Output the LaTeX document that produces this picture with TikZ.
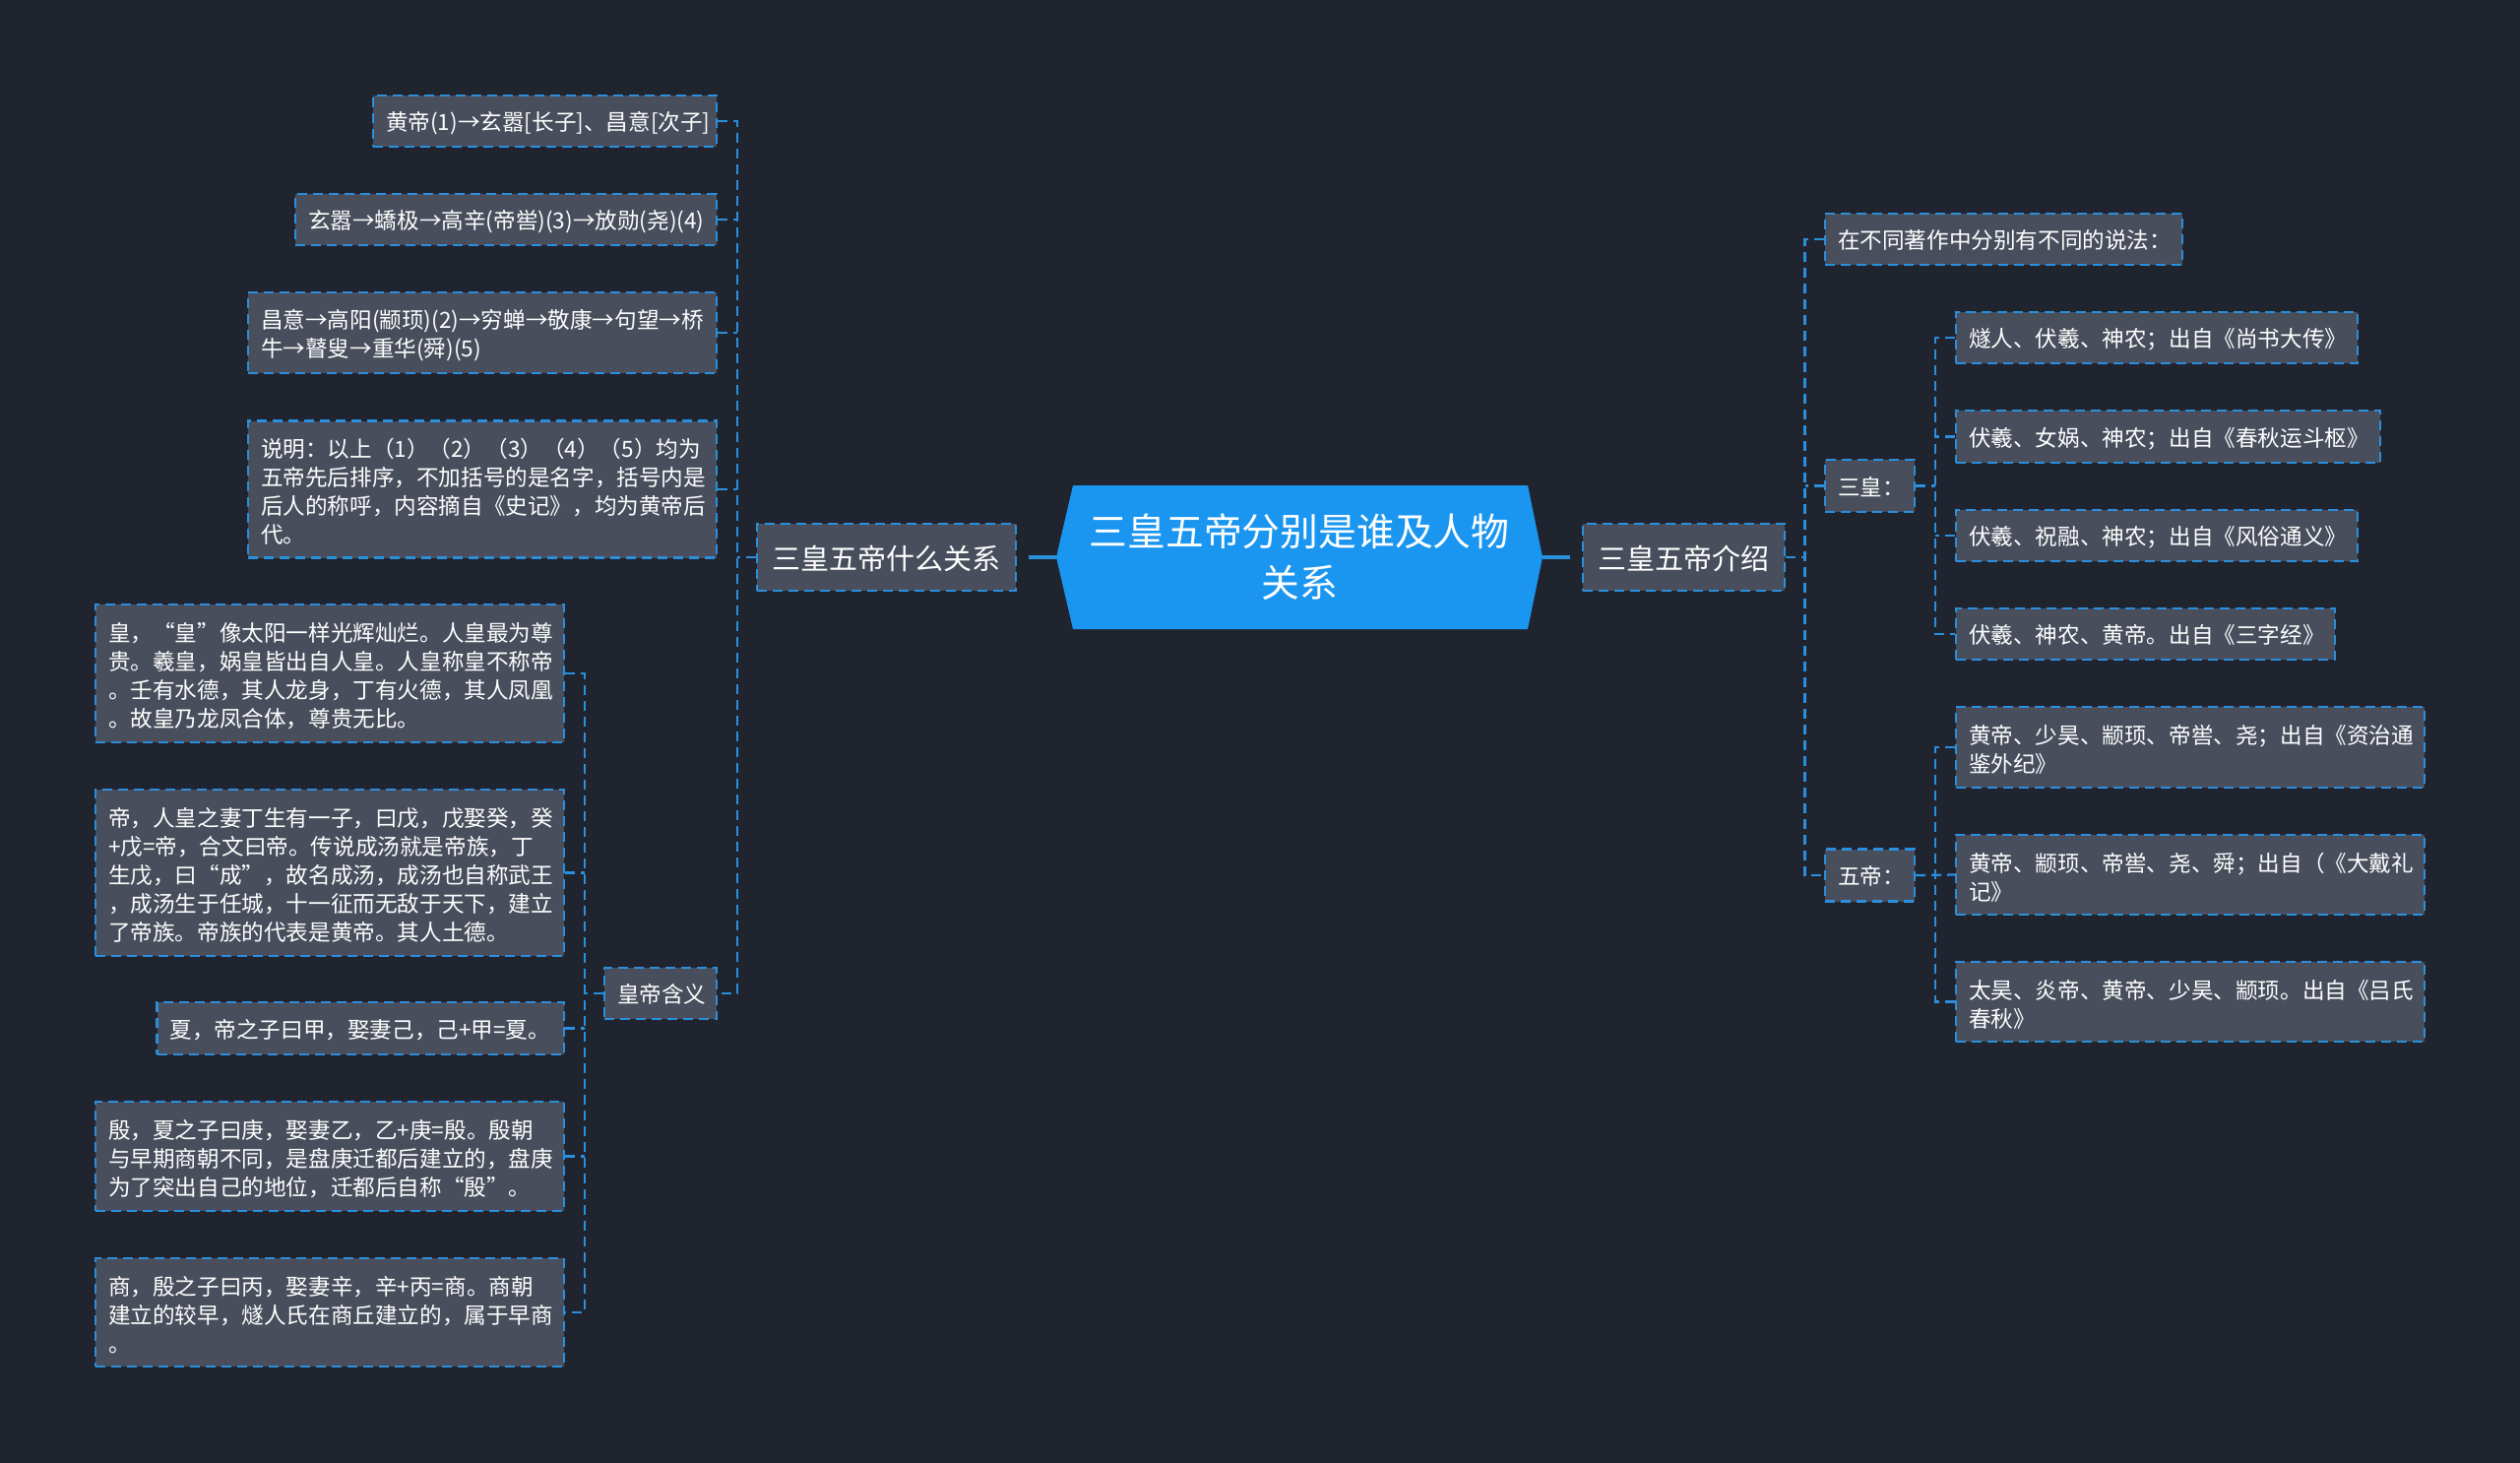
\documentclass[tikz,border=0pt]{standalone}
\usepackage{fontspec}
\setmainfont{Noto Sans CJK SC}
\usetikzlibrary{positioning}
\definecolor{bgdark}{HTML}{20242F}
\definecolor{boxgrey}{HTML}{484E5C}
\definecolor{linkblue}{HTML}{2A8FDD}
\definecolor{rootblue}{HTML}{1A96F0}
\tikzset{
  leaf/.style 2 args={draw=linkblue, fill=boxgrey, line width=1.15pt, dash pattern=on 5pt off 3pt,
    text=white, font=\fontsize{11.3}{14.5}\selectfont, align=left, inner xsep=6.5pt, inner ysep=0pt,
    text width=#1*0.5pt-13pt, minimum height=#2*0.5pt,
    execute at begin node={\lineskiplimit=-100pt}, execute at end node={\par\vspace{-2.4pt}}},
  topic/.style 2 args={leaf={#1}{#2}, font=\fontsize{14.5}{18}\selectfont, align=center},
  link/.style={draw=linkblue, line width=1.15pt, dash pattern=on 5pt off 3pt},
  rootlink/.style={draw=linkblue, line width=2pt, dash pattern=on 14pt off 6pt},
}
\begin{document}
\begin{tikzpicture}[x=0.5pt,y=-0.5pt]
    \useasboundingbox (0,0) rectangle (2560,1485);
    \fill[bgdark] (-10,-10) rectangle (2570,1495);
    %Root
    \fill[rootblue] (1073,566) -- (1090,493) -- (1552,493) -- (1567,566) -- (1552,639) -- (1090,639) -- cycle;
    \node[text=white, align=center, font=\fontsize{19.4}{26}\selectfont] (root) at (1320,566) {三皇五帝分别是谁及人物\\关系};
    \coordinate (rootwest) at (1073,566);
    \coordinate (rooteast) at (1567,566);
    %Left side
    \node[topic={263}{68}] (relation) at (900.5,566) {三皇五帝什么关系};
    \node[leaf={349}{52}] (lineone) at (553.5,123) {黄帝(1)→玄嚣[长子]、昌意[次子]};
    \node[leaf={428}{52}] (linetwo) at (514,223) {玄嚣→蟜极→高辛(帝喾)(3)→放勋(尧)(4)};
    \node[leaf={476}{82}] (linethree) at (490,338) {昌意→高阳(颛顼)(2)→穷蝉→敬康→句望→桥\\牛→瞽叟→重华(舜)(5)};
    \node[leaf={476}{139}] (note) at (490,497) {说明：以上（1）（2）（3）（4）（5）均为\\五帝先后排序，不加括号的是名字，括号内是\\后人的称呼，内容摘自《史记》，均为黄帝后\\代。};
    \node[leaf={114}{52}] (meaning) at (671,1009) {皇帝含义};
    \node[leaf={476}{140}] (huang) at (335,684) {皇，“皇”像太阳一样光辉灿烂。人皇最为尊\\贵。羲皇，娲皇皆出自人皇。人皇称皇不称帝\\。壬有水德，其人龙身，丁有火德，其人凤凰\\。故皇乃龙凤合体，尊贵无比。};
    \node[leaf={476}{169}] (di) at (335,886.5) {帝，人皇之妻丁生有一子，曰戊，戊娶癸，癸\\+戊=帝，合文曰帝。传说成汤就是帝族，丁\\生戊，曰“成”，故名成汤，成汤也自称武王\\，成汤生于任城，十一征而无敌于天下，建立\\了帝族。帝族的代表是黄帝。其人土德。};
    \node[leaf={413.5}{53}] (xia) at (366.25,1044.5) {夏，帝之子曰甲，娶妻己，己+甲=夏。};
    \node[leaf={476}{111}] (yin) at (335,1174.5) {殷，夏之子曰庚，娶妻乙，乙+庚=殷。殷朝\\与早期商朝不同，是盘庚迁都后建立的，盘庚\\为了突出自己的地位，迁都后自称“殷”。};
    \node[leaf={476}{110}] (shang) at (335,1333) {商，殷之子曰丙，娶妻辛，辛+丙=商。商朝\\建立的较早，燧人氏在商丘建立的，属于早商\\。};
    %Right side
    \node[topic={205}{68}] (intro) at (1710.5,566) {三皇五帝介绍};
    \node[leaf={363}{52}] (saying) at (2035.5,243) {在不同著作中分别有不同的说法：};
    \node[leaf={91}{53}] (sanhuang) at (1899.5,493.5) {三皇：};
    \node[leaf={91}{53}] (wudi) at (1899.5,889) {五帝：};
    \node[leaf={408}{52}] (shangshu) at (2191,343) {燧人、伏羲、神农；出自《尚书大传》};
    \node[leaf={431}{53}] (chunqiu) at (2202.5,443.5) {伏羲、女娲、神农；出自《春秋运斗枢》};
    \node[leaf={408}{52}] (fengsu) at (2191,544) {伏羲、祝融、神农；出自《风俗通义》};
    \node[leaf={385}{52}] (sanzi) at (2179.5,644) {伏羲、神农、黄帝。出自《三字经》};
    \node[leaf={476}{82}] (zizhi) at (2225,759) {黄帝、少昊、颛顼、帝喾、尧；出自《资治通\\鉴外纪》};
    \node[leaf={476}{81}] (dadai) at (2225,888.5) {黄帝、颛顼、帝喾、尧、舜；出自（《大戴礼\\记》};
    \node[leaf={476}{81}] (lvshi) at (2225,1017.5) {太昊、炎帝、黄帝、少昊、颛顼。出自《吕氏\\春秋》};
    %Root links
    \draw[rootlink] (rootwest) -- (relation.east);
    \draw[rootlink] (rooteast) -- (intro.west);
    %Left links
    \draw[link] (relation.west) -- (749,566);
    \draw[link] (lineone.east) -- (749,123) -- (749,1009) -- (meaning.east);
    \draw[link] (linetwo.east) -- (749,223);
    \draw[link] (linethree.east) -- (749,338);
    \draw[link] (note.east) -- (749,497);
    \draw[link] (meaning.west) -- (594,1009);
    \draw[link] (huang.east) -- (594,684) -- (594,1333) -- (shang.east);
    \draw[link] (di.east) -- (594,886.5);
    \draw[link] (xia.east) -- (594,1044.5);
    \draw[link] (yin.east) -- (594,1174.5);
    %Right links
    \draw[link] (intro.east) -- (1833.5,566);
    \draw[link] (saying.west) -- (1833.5,243) -- (1833.5,889) -- (wudi.west);
    \draw[link] (sanhuang.west) -- (1833.5,493.5);
    \draw[link] (sanhuang.east) -- (1966,493.5);
    \draw[link] (shangshu.west) -- (1966,343) -- (1966,644) -- (sanzi.west);
    \draw[link] (chunqiu.west) -- (1966,443.5);
    \draw[link] (fengsu.west) -- (1966,544);
    \draw[link] (wudi.east) -- (dadai.west);
    \draw[link] (zizhi.west) -- (1966,759) -- (1966,1017.5) -- (lvshi.west);
\end{tikzpicture}
\end{document}
